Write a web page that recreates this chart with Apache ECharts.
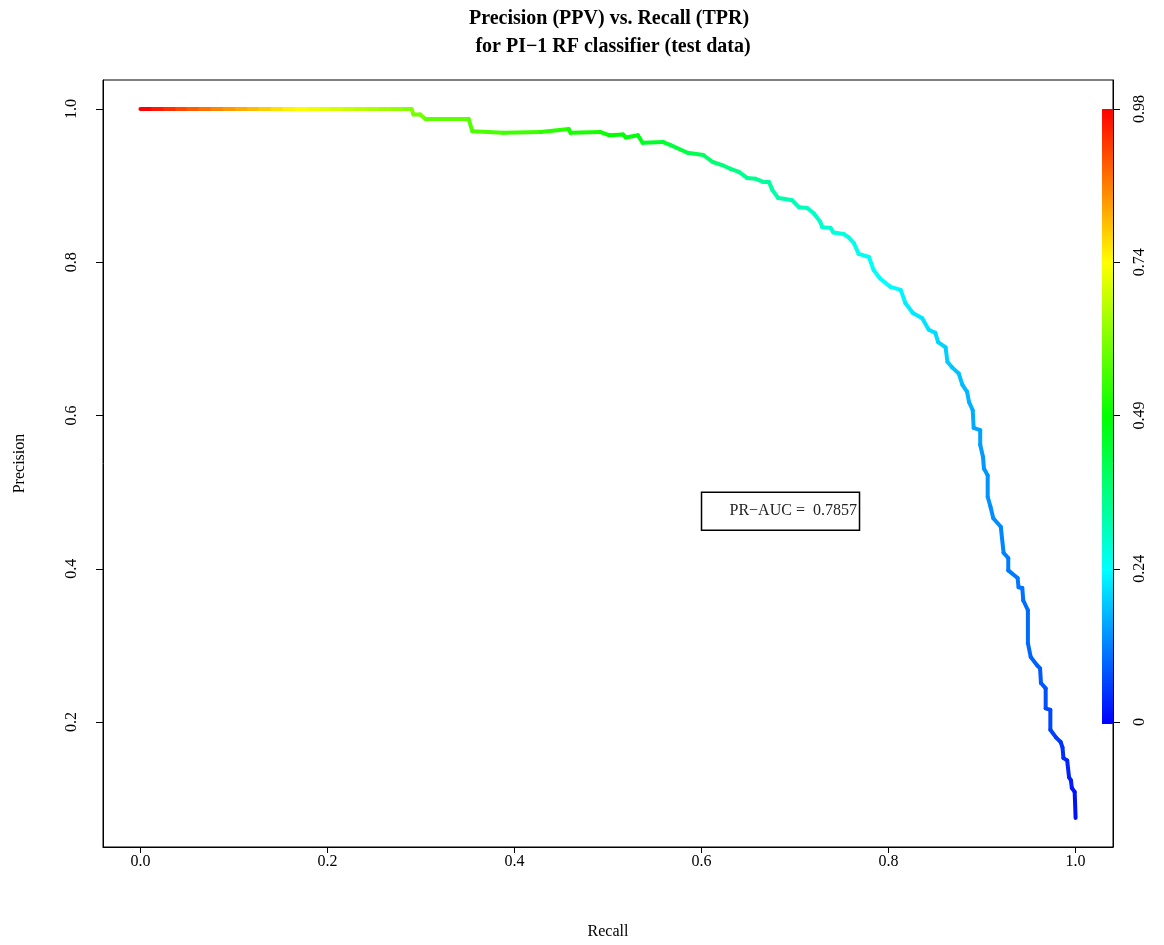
<!DOCTYPE html>
<html>
<head>
<meta charset="utf-8">
<script src="https://cdn.jsdelivr.net/npm/echarts@6/dist/echarts.min.js"></script>
<style>
html,body{margin:0;padding:0;background:#fff;}
#chart{width:1164px;height:945px;}
</style>
</head>
<body>
<div id="chart"></div>
<script>
// ---- data ----
const recall = [
  0.000, 0.013, 0.026, 0.039, 0.051, 0.064, 0.077, 0.090, 0.103, 0.116, 0.128, 0.141,
  0.154, 0.167, 0.180, 0.193, 0.205, 0.218, 0.231, 0.244, 0.257, 0.270, 0.282, 0.290,
  0.292, 0.299, 0.305, 0.351, 0.355, 0.388, 0.428, 0.458, 0.460, 0.492, 0.501, 0.516,
  0.519, 0.532, 0.537, 0.559, 0.567, 0.585, 0.602, 0.612, 0.622, 0.631, 0.640, 0.649,
  0.658, 0.666, 0.672, 0.676, 0.682, 0.688, 0.697, 0.704, 0.713, 0.720, 0.727, 0.729,
  0.738, 0.741, 0.752, 0.757, 0.763, 0.768, 0.779, 0.784, 0.791, 0.802, 0.813, 0.818,
  0.826, 0.836, 0.843, 0.850, 0.853, 0.861, 0.863, 0.868, 0.875, 0.879, 0.884, 0.886,
  0.890, 0.891, 0.898, 0.898, 0.901, 0.902, 0.906, 0.906, 0.909, 0.912, 0.920, 0.923,
  0.928, 0.928, 0.938, 0.939, 0.943, 0.944, 0.949, 0.949, 0.952, 0.959, 0.962, 0.963,
  0.968, 0.968, 0.973, 0.973, 0.979, 0.984, 0.986, 0.987, 0.991, 0.993, 0.995, 0.996,
  0.999, 1.000
];
const precision = [
  1.000, 1.000, 1.000, 1.000, 1.000, 1.000, 1.000, 1.000, 1.000, 1.000, 1.000, 1.000,
  1.000, 1.000, 1.000, 1.000, 1.000, 1.000, 1.000, 1.000, 1.000, 1.000, 1.000, 1.000,
  0.993, 0.993, 0.987, 0.987, 0.971, 0.969, 0.970, 0.974, 0.969, 0.970, 0.966, 0.967,
  0.963, 0.966, 0.956, 0.957, 0.953, 0.943, 0.940, 0.931, 0.927, 0.922, 0.918, 0.910,
  0.909, 0.905, 0.905, 0.894, 0.884, 0.883, 0.881, 0.872, 0.871, 0.864, 0.853, 0.846,
  0.845, 0.839, 0.837, 0.833, 0.825, 0.811, 0.807, 0.790, 0.779, 0.768, 0.764, 0.747,
  0.734, 0.727, 0.712, 0.708, 0.696, 0.689, 0.670, 0.663, 0.655, 0.640, 0.631, 0.618,
  0.607, 0.584, 0.581, 0.562, 0.546, 0.531, 0.522, 0.494, 0.481, 0.466, 0.455, 0.421,
  0.414, 0.398, 0.388, 0.376, 0.375, 0.359, 0.346, 0.303, 0.285, 0.274, 0.270, 0.251,
  0.244, 0.218, 0.216, 0.190, 0.180, 0.174, 0.167, 0.153, 0.150, 0.128, 0.124, 0.114,
  0.109, 0.075
];
const cutoff = [
  0.980, 0.958, 0.936, 0.914, 0.892, 0.870, 0.850, 0.833, 0.816, 0.799, 0.782, 0.764,
  0.747, 0.733, 0.720, 0.707, 0.693, 0.680, 0.668, 0.655, 0.643, 0.631, 0.619, 0.613,
  0.600, 0.600, 0.580, 0.570, 0.560, 0.550, 0.530, 0.510, 0.510, 0.500, 0.490, 0.480,
  0.480, 0.470, 0.450, 0.440, 0.430, 0.410, 0.390, 0.380, 0.370, 0.360, 0.355, 0.350,
  0.345, 0.340, 0.335, 0.330, 0.325, 0.320, 0.315, 0.310, 0.305, 0.300, 0.295, 0.290,
  0.285, 0.280, 0.275, 0.270, 0.265, 0.260, 0.255, 0.250, 0.245, 0.240, 0.235, 0.230,
  0.225, 0.220, 0.215, 0.210, 0.205, 0.200, 0.195, 0.190, 0.185, 0.180, 0.175, 0.170,
  0.165, 0.160, 0.155, 0.150, 0.148, 0.145, 0.142, 0.140, 0.137, 0.135, 0.130, 0.125,
  0.120, 0.118, 0.115, 0.112, 0.110, 0.107, 0.104, 0.100, 0.095, 0.090, 0.087, 0.083,
  0.078, 0.072, 0.068, 0.062, 0.055, 0.048, 0.044, 0.040, 0.035, 0.030, 0.025, 0.020,
  0.015, 0.010
];
const xTicks = [0.0, 0.2, 0.4, 0.6, 0.8, 1.0];
const yTicks = [0.2, 0.4, 0.6, 0.8, 1.0];
const colorbarTicks = [0, 0.245, 0.49, 0.735, 0.98];
const colorbarLabels = ['0', '0.24', '0.49', '0.74', '0.98'];
const rainbow = ['#0000ff', '#00ffff', '#00ff00', '#ffff00', '#ff0000'];
const aucText = 'PR\u2212AUC =  0.7857';
const aucAnchor = [0.6, 0.5];

// ---- chart ----
const FONT = '"Liberation Serif", "DejaVu Serif", serif';
const chart = echarts.init(document.getElementById('chart'), null, {renderer: 'canvas'});
const data = recall.map((r, i) => [r, precision[i], cutoff[i]]);
const cMin = 0, cMax = colorbarTicks[colorbarTicks.length - 1];

const option = {
  backgroundColor: '#ffffff',
  animation: false,
  title: [
    {text: 'Precision (PPV) vs. Recall (TPR)', left: 609, top: 9, textAlign: 'center', padding: 0,
     textStyle: {fontFamily: FONT, fontSize: 20, fontWeight: 'bold', color: '#000'}},
    {text: 'for PI\u22121 RF classifier (test data)', left: 613, top: 37, textAlign: 'center', padding: 0,
     textStyle: {fontFamily: FONT, fontSize: 20, fontWeight: 'bold', color: '#000'}}
  ],
  grid: {left: 103, top: 80, right: 51, bottom: 98, show: true, borderColor: '#000', borderWidth: 1,
         backgroundColor: 'transparent', containLabel: false, outerBoundsMode: 'none'},
  visualMap: {
    type: 'continuous', min: cMin, max: cMax, dimension: 2, seriesIndex: 0,
    inRange: {color: rainbow}, show: false
  },
  xAxis: {
    type: 'value', min: -0.04, max: 1.04,
    name: 'Recall', nameLocation: 'middle', nameGap: 77,
    nameTextStyle: {fontFamily: FONT, fontSize: 16, color: '#000'},
    axisLine: {show: true, onZero: false, lineStyle: {color: '#000', width: 1}},
    axisTick: {show: true, length: 6, customValues: xTicks, lineStyle: {color: '#000'}},
    axisLabel: {customValues: xTicks, formatter: v => v.toFixed(1), margin: 7,
                fontFamily: FONT, fontSize: 16, color: '#000'},
    splitLine: {show: false}
  },
  yAxis: [
    {
      type: 'value', min: 0.037, max: 1.038, position: 'left',
      name: 'Precision', nameLocation: 'middle', nameGap: 75,
      nameTextStyle: {fontFamily: FONT, fontSize: 16, color: '#000'},
      axisLine: {show: true, onZero: false, lineStyle: {color: '#000', width: 1}},
      axisTick: {show: true, length: 7, customValues: yTicks, lineStyle: {color: '#000'}},
      axisLabel: {customValues: yTicks, formatter: v => v.toFixed(1), rotate: 90, margin: 23,
                  fontFamily: FONT, fontSize: 16, color: '#000'},
      splitLine: {show: false}
    },
    {
      type: 'value', min: -0.1998, max: 1.0264, position: 'right',
      axisLine: {show: true, onZero: false, lineStyle: {color: '#000', width: 1}},
      axisTick: {show: true, length: 7, customValues: colorbarTicks, lineStyle: {color: '#000'}},
      axisLabel: {customValues: colorbarTicks, rotate: 90, margin: 19,
                  formatter: v => {
                    const k = colorbarTicks.findIndex(t => Math.abs(t - v) < 1e-6);
                    return k >= 0 ? colorbarLabels[k] : '';
                  },
                  fontFamily: FONT, fontSize: 16, color: '#000'},
      splitLine: {show: false}
    }
  ],
  series: [{
    type: 'custom',
    silent: true,
    xAxisIndex: 0, yAxisIndex: 0,
    encode: {x: 0, y: 1},
    data: data,
    renderItem: function (params, api) {
      const i = params.dataIndex;
      if (i >= recall.length - 1) return null;
      const p0 = api.coord([recall[i], precision[i]]);
      const p1 = api.coord([recall[i + 1], precision[i + 1]]);
      return {
        type: 'line',
        shape: {x1: p0[0], y1: p0[1], x2: p1[0], y2: p1[1]},
        style: {stroke: api.visual('color'), lineWidth: 4, lineCap: 'round'}
      };
    }
  }]
};
chart.setOption(option);

// PR-AUC legend box anchored at data coordinates
const a = chart.convertToPixel({xAxisIndex: 0, yAxisIndex: 0}, aucAnchor);
// colour key placed on the cutoff (right) axis scale
const cTop = chart.convertToPixel({yAxisIndex: 1}, cMax);
const cBot = chart.convertToPixel({yAxisIndex: 1}, cMin);
const gridRight = 1164 - 51;
const stops = rainbow.map((c, k) => ({offset: 1 - k / (rainbow.length - 1), color: c}));
chart.setOption({
  graphic: [
    {
      type: 'rect', silent: true,
      shape: {x: gridRight - 11, y: cTop, width: 11, height: cBot - cTop + 2},
      style: {fill: new echarts.graphic.LinearGradient(0, 0, 0, 1, stops.slice().reverse())}
    },
    {
      type: 'group', x: a[0], y: a[1], silent: true,
      children: [
        {type: 'rect', shape: {x: 0, y: 0, width: 158, height: 38},
         style: {fill: '#fff', stroke: '#000', lineWidth: 1.5}},
        {type: 'text', x: 28, y: 19,
         style: {text: aucText, fontFamily: FONT, fontSize: 16, fill: '#222',
                 verticalAlign: 'middle', align: 'left'}}
      ]
    }
  ]
});
</script>
</body>
</html>
